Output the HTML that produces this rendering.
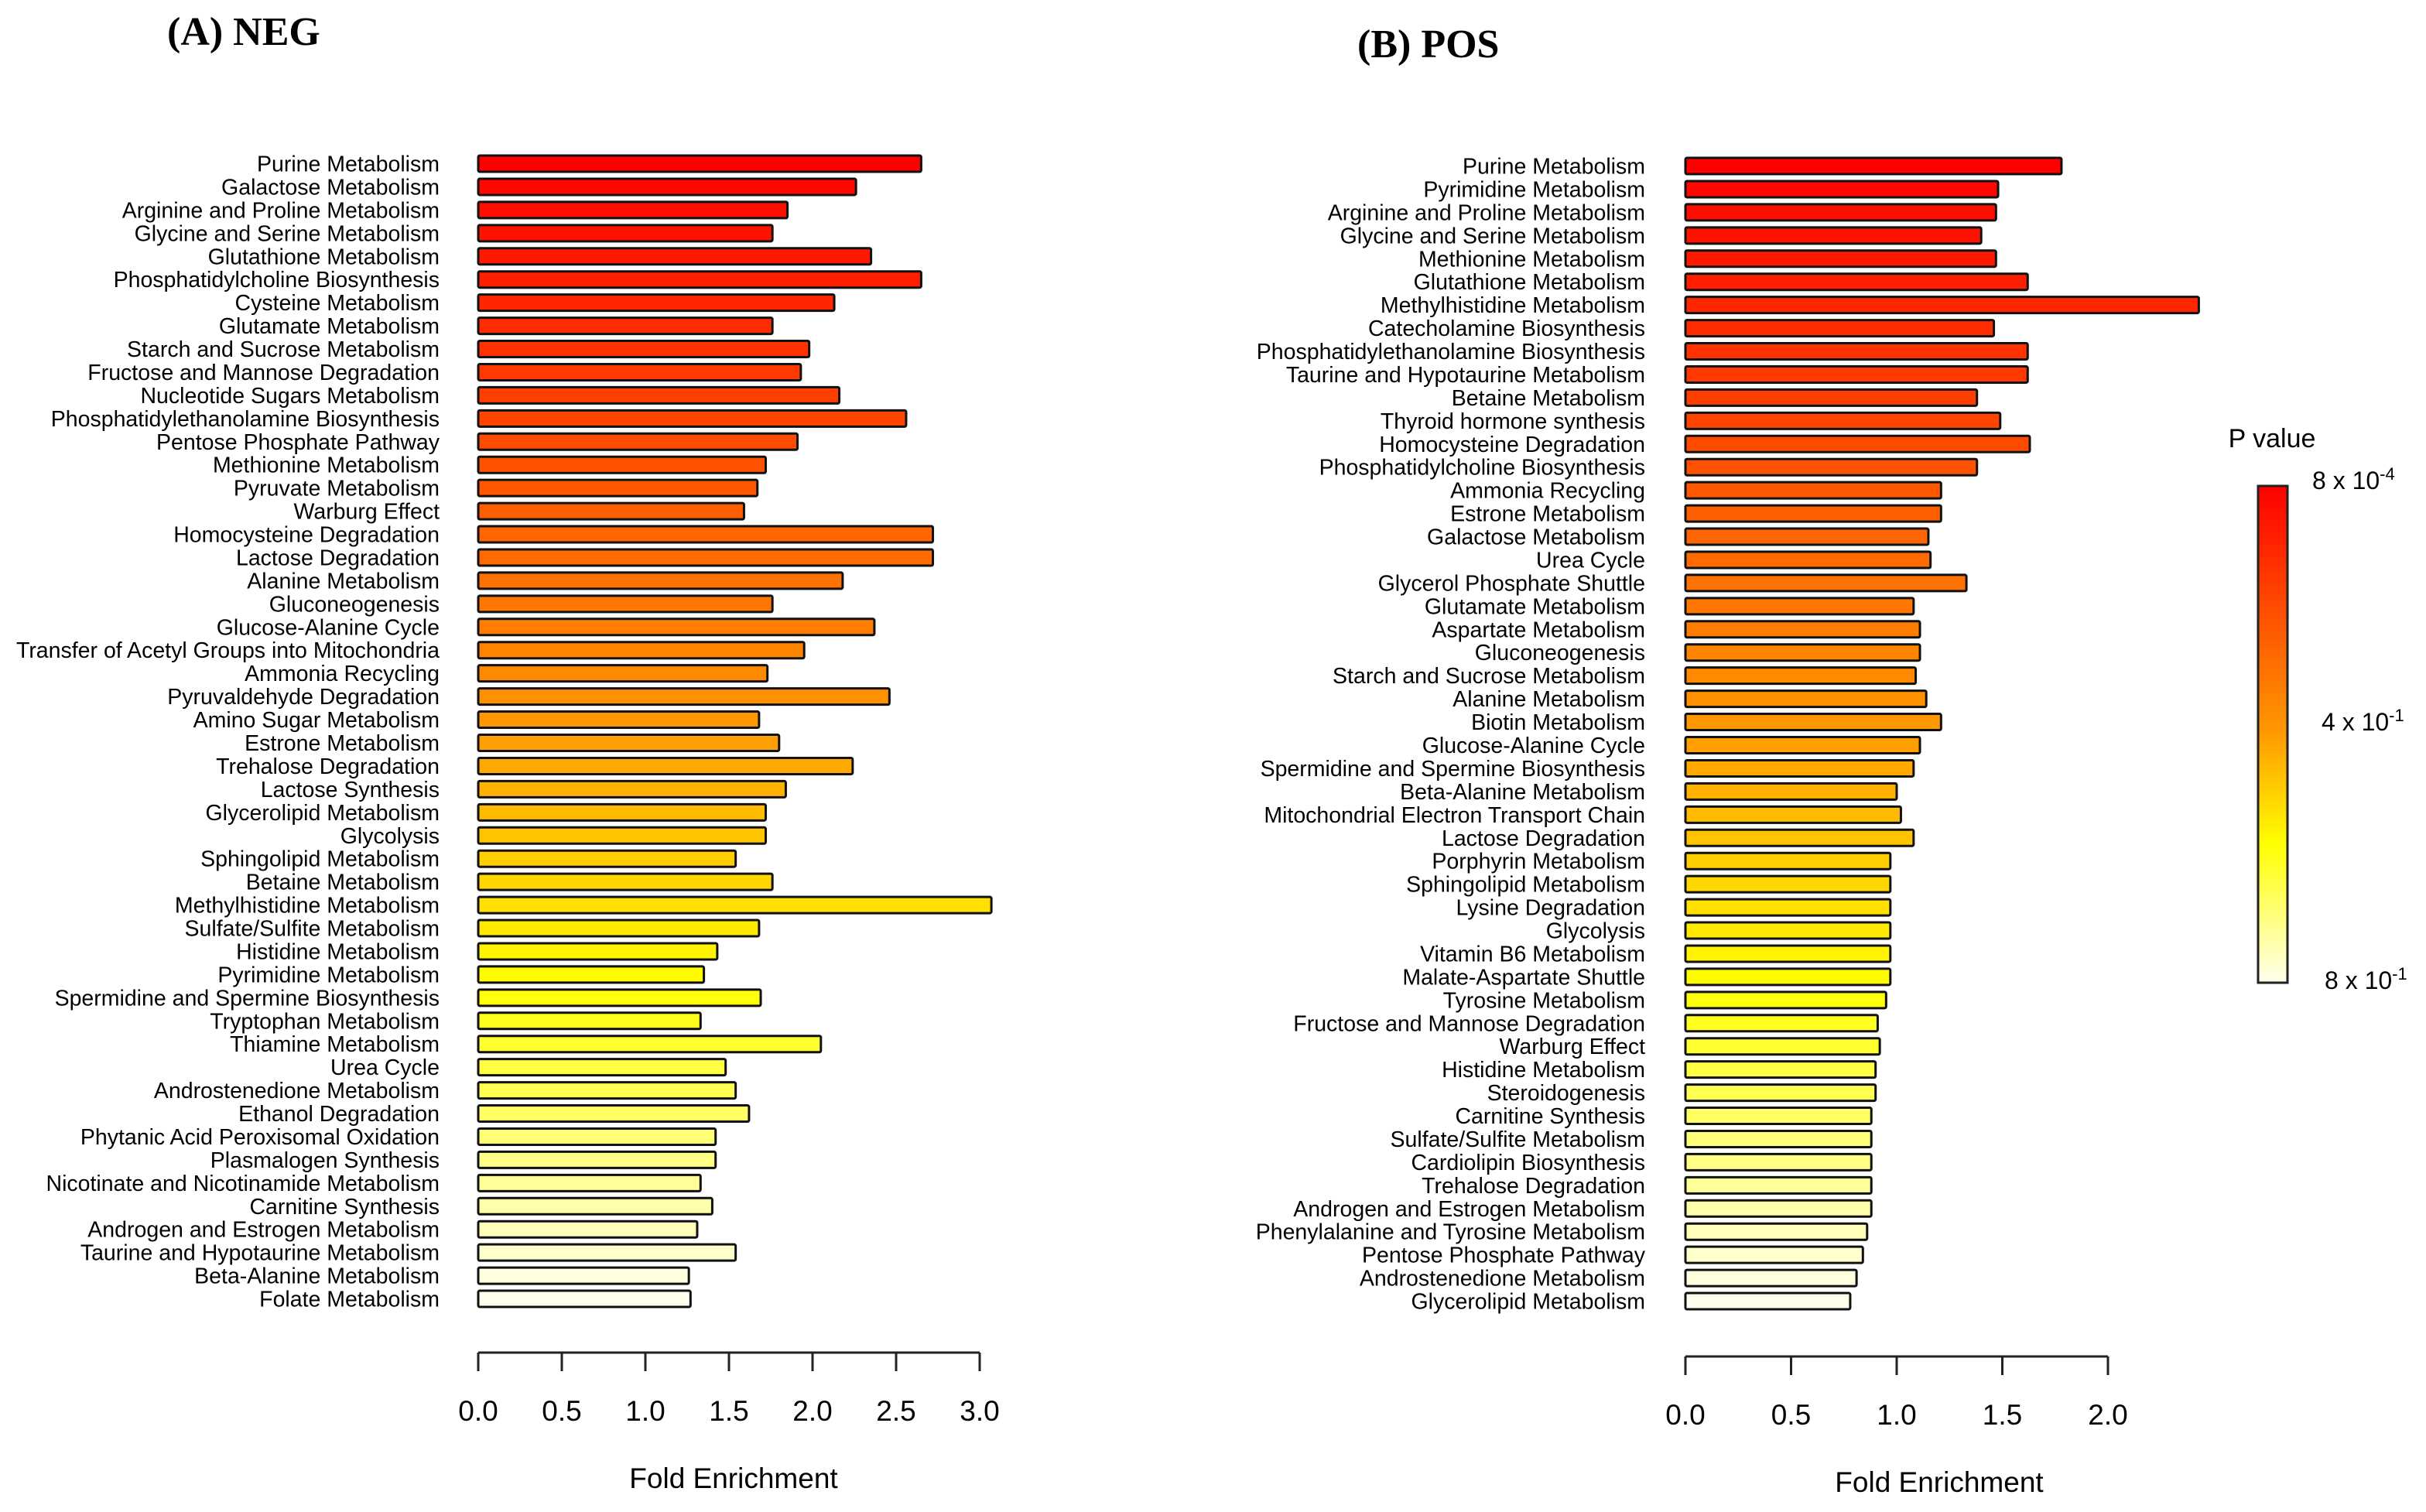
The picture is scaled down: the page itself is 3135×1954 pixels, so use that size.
<!DOCTYPE html>
<html><head><meta charset="utf-8"><style>
html,body{margin:0;padding:0;background:#fff;}
svg{display:block;font-family:"Liberation Sans",Arial,sans-serif;}
</style></head><body>
<svg id="chart" width="3135" height="1954" viewBox="0 0 3135 1954">
<defs><linearGradient id="pgrad" x1="0" y1="0" x2="0" y2="1">
<stop offset="0" stop-color="#ff0000"/><stop offset="0.5" stop-color="#ff9a00"/><stop offset="0.72" stop-color="#ffff00"/><stop offset="1" stop-color="#ffffee"/></linearGradient></defs>
<text x="216" y="58" font-family="Liberation Serif" font-weight="bold" font-size="52">(A) NEG</text>
<text x="1754" y="74" font-family="Liberation Serif" font-weight="bold" font-size="52">(B) POS</text>
<g>
<text x="2936" y="578" font-size="34" text-anchor="middle">P value</text>
<rect x="2918" y="628" width="38" height="642" fill="url(#pgrad)" stroke="#222" stroke-width="3"/>
<text x="2988" y="632" font-size="32">8 x 10<tspan dy="-12" font-size="22">-4</tspan></text>
<text x="3000" y="944" font-size="32">4 x 10<tspan dy="-12" font-size="22">-1</tspan></text>
<text x="3004" y="1278" font-size="32">8 x 10<tspan dy="-12" font-size="22">-1</tspan></text>
</g>
<g id="negG"></g>
<g id="posG"></g>
</svg>
<script>
const negCategories=["Purine Metabolism","Galactose Metabolism","Arginine and Proline Metabolism","Glycine and Serine Metabolism","Glutathione Metabolism","Phosphatidylcholine Biosynthesis","Cysteine Metabolism","Glutamate Metabolism","Starch and Sucrose Metabolism","Fructose and Mannose Degradation","Nucleotide Sugars Metabolism","Phosphatidylethanolamine Biosynthesis","Pentose Phosphate Pathway","Methionine Metabolism","Pyruvate Metabolism","Warburg Effect","Homocysteine Degradation","Lactose Degradation","Alanine Metabolism","Gluconeogenesis","Glucose-Alanine Cycle","Transfer of Acetyl Groups into Mitochondria","Ammonia Recycling","Pyruvaldehyde Degradation","Amino Sugar Metabolism","Estrone Metabolism","Trehalose Degradation","Lactose Synthesis","Glycerolipid Metabolism","Glycolysis","Sphingolipid Metabolism","Betaine Metabolism","Methylhistidine Metabolism","Sulfate/Sulfite Metabolism","Histidine Metabolism","Pyrimidine Metabolism","Spermidine and Spermine Biosynthesis","Tryptophan Metabolism","Thiamine Metabolism","Urea Cycle","Androstenedione Metabolism","Ethanol Degradation","Phytanic Acid Peroxisomal Oxidation","Plasmalogen Synthesis","Nicotinate and Nicotinamide Metabolism","Carnitine Synthesis","Androgen and Estrogen Metabolism","Taurine and Hypotaurine Metabolism","Beta-Alanine Metabolism","Folate Metabolism"];
const negValues=[2.65,2.26,1.85,1.76,2.35,2.65,2.13,1.76,1.98,1.93,2.16,2.56,1.91,1.72,1.67,1.59,2.72,2.72,2.18,1.76,2.37,1.95,1.73,2.46,1.68,1.80,2.24,1.84,1.72,1.72,1.54,1.76,3.07,1.68,1.43,1.35,1.69,1.33,2.05,1.48,1.54,1.62,1.42,1.42,1.33,1.40,1.31,1.54,1.26,1.27];
const negTicks=["0.0","0.5","1.0","1.5","2.0","2.5","3.0"];
const posCategories=["Purine Metabolism","Pyrimidine Metabolism","Arginine and Proline Metabolism","Glycine and Serine Metabolism","Methionine Metabolism","Glutathione Metabolism","Methylhistidine Metabolism","Catecholamine Biosynthesis","Phosphatidylethanolamine Biosynthesis","Taurine and Hypotaurine Metabolism","Betaine Metabolism","Thyroid hormone synthesis","Homocysteine Degradation","Phosphatidylcholine Biosynthesis","Ammonia Recycling","Estrone Metabolism","Galactose Metabolism","Urea Cycle","Glycerol Phosphate Shuttle","Glutamate Metabolism","Aspartate Metabolism","Gluconeogenesis","Starch and Sucrose Metabolism","Alanine Metabolism","Biotin Metabolism","Glucose-Alanine Cycle","Spermidine and Spermine Biosynthesis","Beta-Alanine Metabolism","Mitochondrial Electron Transport Chain","Lactose Degradation","Porphyrin Metabolism","Sphingolipid Metabolism","Lysine Degradation","Glycolysis","Vitamin B6 Metabolism","Malate-Aspartate Shuttle","Tyrosine Metabolism","Fructose and Mannose Degradation","Warburg Effect","Histidine Metabolism","Steroidogenesis","Carnitine Synthesis","Sulfate/Sulfite Metabolism","Cardiolipin Biosynthesis","Trehalose Degradation","Androgen and Estrogen Metabolism","Phenylalanine and Tyrosine Metabolism","Pentose Phosphate Pathway","Androstenedione Metabolism","Glycerolipid Metabolism"];
const posValues=[1.78,1.48,1.47,1.40,1.47,1.62,2.43,1.46,1.62,1.62,1.38,1.49,1.63,1.38,1.21,1.21,1.15,1.16,1.33,1.08,1.11,1.11,1.09,1.14,1.21,1.11,1.08,1.00,1.02,1.08,0.97,0.97,0.97,0.97,0.97,0.97,0.95,0.91,0.92,0.90,0.90,0.88,0.88,0.88,0.88,0.88,0.86,0.84,0.81,0.78];
const posTicks=["0.0","0.5","1.0","1.5","2.0"];

const NS="http://www.w3.org/2000/svg";
function mk(tag,attrs,parent){const e=document.createElementNS(NS,tag);for(const k in attrs)e.setAttribute(k,attrs[k]);parent.appendChild(e);return e;}
const stops=[[0,[255,0,0]],[0.5,[255,154,0]],[0.72,[255,255,0]],[1,[255,255,238]]];
function colorAt(t){for(let i=1;i<stops.length;i++){if(t<=stops[i][0]){const a=stops[i-1],b=stops[i];const f=(t-a[0])/(b[0]-a[0]);const c=a[1].map((v,j)=>Math.round(v+(b[1][j]-v)*f));return `rgb(${c[0]},${c[1]},${c[2]})`;}}return "rgb(255,255,238)";}
function drawPanel(g,cats,vals,ticks,cfg){
  const xs=v=>cfg.x0+v*cfg.unit;
  const ys=i=>cfg.y0+i*cfg.step;
  const n=cats.length;
  cats.forEach((c,i)=>{
    const t=mk('text',{x:cfg.lx,y:ys(i)+cfg.bh/2+10,'font-size':28.5,'text-anchor':'end'},g);
    t.textContent=c;
    
    
    const r=mk('rect',{x:xs(0),y:ys(i),width:xs(vals[i])-xs(0),height:cfg.bh,fill:colorAt(i/(n-1)),stroke:'#111','stroke-width':3,rx:2},g);
    
    
  });
  const maxT=parseFloat(ticks[ticks.length-1]);
  const ax=mk('line',{x1:xs(0),x2:xs(maxT),y1:cfg.ay,y2:cfg.ay,stroke:'#222','stroke-width':3},g);
  
  
  ticks.forEach(tk=>{
    const v=parseFloat(tk);
    const l=mk('line',{x1:xs(v),x2:xs(v),y1:cfg.ay,y2:cfg.ay+24,stroke:'#222','stroke-width':3},g);
    
    
    const t=mk('text',{x:xs(v),y:cfg.ay+88,'font-size':37,'text-anchor':'middle'},g);
    t.textContent=tk;
    
    
  });
  const tt=mk('text',{x:cfg.tx,y:cfg.ty,'font-size':37,'text-anchor':'middle'},g);
  tt.textContent='Fold Enrichment';
  
  
}
drawPanel(document.getElementById('negG'),negCategories,negValues,negTicks,{x0:618,unit:216,lx:568,y0:201,step:29.94,bh:21,ay:1748,tx:948,ty:1923});
drawPanel(document.getElementById('posG'),posCategories,posValues,posTicks,{x0:2178,unit:273,lx:2126,y0:204,step:29.94,bh:21,ay:1753,tx:2506,ty:1928});
</script>
</body></html>
